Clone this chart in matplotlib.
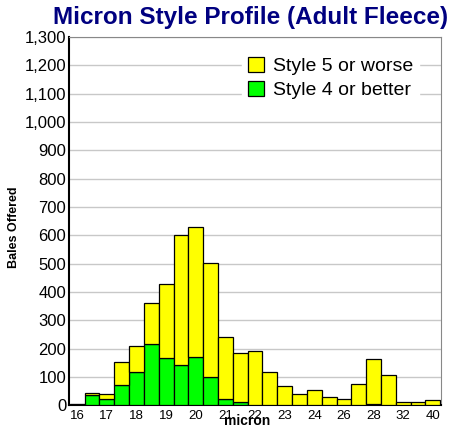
import numpy as np
import matplotlib
matplotlib.use('Agg')
import matplotlib.pyplot as plt
from matplotlib.ticker import FuncFormatter

plt.rcParams['font.family'] = ['Liberation Sans', 'DejaVu Sans']

# micron classes (one bar each), only every other one is labelled
microns = ['16', '', '17', '', '18', '', '19', '', '20', '', '21', '', '22',
           '', '23', '', '24', '', '26', '', '28', '', '32', '', '40']

# bales offered per class
style4_better = [3, 37, 22, 73, 117, 218, 168, 142, 172, 100, 22, 11, 2,
                 0, 0, 0, 0, 0, 0, 0, 6, 2, 0, 0, 0]
totals = [5, 45, 39, 154, 210, 361, 427, 601, 631, 501, 240, 186, 191,
          119, 67, 40, 53, 31, 22, 76, 164, 107, 13, 11, 18]

style4_better = np.array(style4_better)
style5_worse = np.array(totals) - style4_better
x = np.arange(len(microns))

fig = plt.figure(figsize=(4.52, 4.28), dpi=100)
ax = fig.add_axes([0.1527, 0.0526, 0.8230, 0.8610])

b1 = ax.bar(x, style4_better, width=1.0, color='#00ff00', edgecolor='black',
            linewidth=0.9, label='Style 4 or better', zorder=3)
b2 = ax.bar(x, style5_worse, width=1.0, bottom=style4_better, color='#ffff00',
            edgecolor='black', linewidth=0.9, label='Style 5 or worse', zorder=3)

ax.set_xlim(-0.55, len(microns) - 0.45)
ax.set_ylim(0, 1300)
ax.set_yticks(np.arange(0, 1301, 100))
ax.yaxis.set_major_formatter(FuncFormatter(lambda v, p: '{:,.0f}'.format(v)))
ax.set_xticks(x)
ax.set_xticklabels(microns, fontsize=9.5)
ax.tick_params(axis='y', labelsize=12, length=0, pad=2)
ax.tick_params(axis='x', length=0, pad=3)
ax.grid(axis='y', color='#c8c8c8', linewidth=1, zorder=0)

ax.spines['left'].set_color('black')
ax.spines['left'].set_linewidth(1.5)
ax.spines['bottom'].set_color('black')
ax.spines['bottom'].set_linewidth(1.5)
ax.spines['top'].set_color('#888888')
ax.spines['right'].set_color('#888888')

leg = ax.legend(handles=[b2, b1], loc='upper right', bbox_to_anchor=(0.968, 0.988),
                fontsize=14, frameon=True, framealpha=1, edgecolor='white',
                handlelength=0.8, handleheight=0.8, handletextpad=0.5,
                labelspacing=0.3, borderpad=0.3, fancybox=False)
leg.set_zorder(5)

fig.text(0.555, 0.958, 'Micron Style Profile (Adult Fleece)', fontsize=17.5,
         fontweight='bold', color='#000080', ha='center', va='center')
fig.text(0.032, 0.47, 'Bales Offered', fontsize=9, fontweight='bold',
         rotation=90, ha='center', va='center')
fig.text(0.546, 0.001, 'micron', fontsize=10, fontweight='bold',
         ha='center', va='bottom')

fig.savefig('out.png', dpi=100)
